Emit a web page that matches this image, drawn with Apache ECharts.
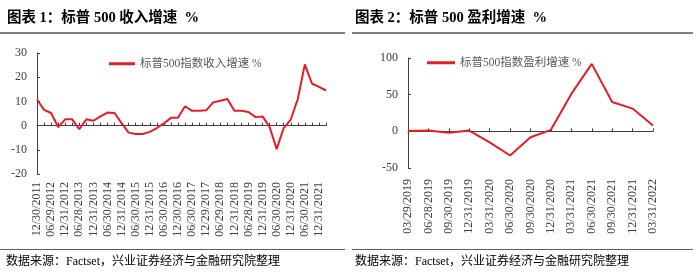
<!DOCTYPE html>
<html><head><meta charset="utf-8">
<script src="https://cdn.jsdelivr.net/npm/echarts@6/dist/echarts.min.js"></script>
<style>html,body{margin:0;padding:0;background:#fff}#c{width:699px;height:273px}</style>
</head><body><div id="c"></div>
<script>
// ---- data ----
const leftDates = ["12/30/2011","03/30/2012","06/29/2012","09/28/2012","12/31/2012","03/28/2013","06/28/2013","09/30/2013","12/31/2013","03/31/2014","06/30/2014","09/30/2014","12/31/2014","03/31/2015","06/30/2015","09/30/2015","12/31/2015","03/31/2016","06/30/2016","09/30/2016","12/30/2016","03/31/2017","06/30/2017","09/29/2017","12/29/2017","03/29/2018","06/29/2018","09/28/2018","12/31/2018","03/29/2019","06/28/2019","09/30/2019","12/31/2019","03/31/2020","06/30/2020","09/30/2020","12/31/2020","03/31/2021","06/30/2021","09/30/2021","12/31/2021","03/31/2022"];
const revenueGrowth = [10.8,6.5,5.2,-0.6,2.6,2.6,-1.5,2.6,2.0,3.8,5.4,5.2,1.0,-2.9,-3.5,-3.5,-2.6,-1.0,0.9,3.2,3.2,8.0,6.1,6.1,6.3,9.6,10.3,11.0,6.1,6.1,5.6,3.5,3.8,-0.6,-9.7,-1.0,2.5,11.0,25.3,17.4,16.0,14.5];
const rightDates = ["03/29/2019","06/28/2019","09/30/2019","12/31/2019","03/31/2020","06/30/2020","09/30/2020","12/31/2020","03/31/2021","06/30/2021","09/30/2021","12/31/2021","03/31/2022"];
const earningsGrowth = [0.5,1,-2,1,-15,-33,-8,2,51,92,40,31,8];
const leftTitle = "图表 1：标普 500 收入增速  %";
const rightTitle = "图表 2：标普 500 盈利增速  %";
const leftName = "标普500指数收入增速 %";
const rightName = "标普500指数盈利增速 %";
const source = "数据来源：Factset，兴业证券经济与金融研究院整理";

const FONT = "'Liberation Serif','Noto Sans CJK SC',serif";
const RED = '#e31e25';
const AX = '#404040';
const LBL = '#404040';

function zeroAxis(grid, data) {
  return {gridIndex: grid, type: 'category', data: data, boundaryGap: false,
    axisLine: {onZero: true, lineStyle: {color: AX, width: 1}},
    axisTick: {inside: true, length: 3, interval: 0, lineStyle: {color: AX}},
    axisLabel: {show: false}, splitLine: {show: false}};
}
function labelAxis(grid, data, interval, margin) {
  return {gridIndex: grid, type: 'category', data: data, boundaryGap: false, position: 'bottom',
    axisLine: {show: false, onZero: false}, axisTick: {show: false},
    axisLabel: {rotate: 90, interval: interval, margin: margin, fontSize: 12, color: LBL, fontFamily: FONT},
    splitLine: {show: false}};
}
function yAxis(grid, min, max, interval) {
  return {gridIndex: grid, type: 'value', min: min, max: max, interval: interval,
    axisLine: {show: true, lineStyle: {color: AX}},
    axisTick: {show: true, inside: true, length: 3, lineStyle: {color: AX}},
    axisLabel: {fontSize: 12, color: LBL, fontFamily: FONT, margin: 10},
    splitLine: {show: false}};
}

const chart = echarts.init(document.getElementById('c'));
chart.setOption({
  animation: false,
  textStyle: {fontFamily: FONT},
  grid: [
    {left: 37, right: 373, top: 53, bottom: 99},
    {left: 408, right: 46, top: 58, bottom: 105}
  ],
  legend: [
    {data: [leftName], left: 104, top: 53, itemWidth: 26, itemHeight: 3, icon: 'rect',
     textStyle: {fontSize: 11.5, color: '#595959', fontFamily: FONT}},
    {data: [rightName], left: 422, top: 52, itemWidth: 28, itemHeight: 3, icon: 'rect',
     textStyle: {fontSize: 11.5, color: '#595959', fontFamily: FONT}}
  ],
  xAxis: [
    zeroAxis(0, leftDates), labelAxis(0, leftDates, 1, 8),
    zeroAxis(1, rightDates), labelAxis(1, rightDates, 0, 11)
  ],
  yAxis: [yAxis(0, -20, 30, 10), yAxis(1, -50, 100, 50)],
  series: [
    {name: leftName, type: 'line', xAxisIndex: 0, yAxisIndex: 0, data: revenueGrowth,
     showSymbol: false, lineStyle: {color: RED, width: 2}, itemStyle: {color: RED}},
    {name: rightName, type: 'line', xAxisIndex: 2, yAxisIndex: 1, data: earningsGrowth,
     showSymbol: false, lineStyle: {color: RED, width: 2}, itemStyle: {color: RED}}
  ],
  graphic: [
    {type: 'text', left: 7, top: 11, style: {text: leftTitle, font: "bold 14.5px " + FONT, fill: '#000'}},
    {type: 'text', left: 355, top: 11, style: {text: rightTitle, font: "bold 14.5px " + FONT, fill: '#000'}},
    {type: 'line', shape: {x1: 0, y1: 33, x2: 345, y2: 33}, style: {stroke: '#808080', lineWidth: 2}},
    {type: 'line', shape: {x1: 352, y1: 33, x2: 693, y2: 33}, style: {stroke: '#808080', lineWidth: 2}},
    {type: 'line', shape: {x1: 0, y1: 249.5, x2: 345, y2: 249.5}, style: {stroke: '#606060', lineWidth: 1}},
    {type: 'line', shape: {x1: 352, y1: 249.5, x2: 693, y2: 249.5}, style: {stroke: '#606060', lineWidth: 1}},
    {type: 'text', left: 6, top: 256, style: {text: source, font: "12px " + FONT, fill: '#000'}},
    {type: 'text', left: 355, top: 256, style: {text: source, font: "12px " + FONT, fill: '#000'}}
  ]
});
</script></body></html>
